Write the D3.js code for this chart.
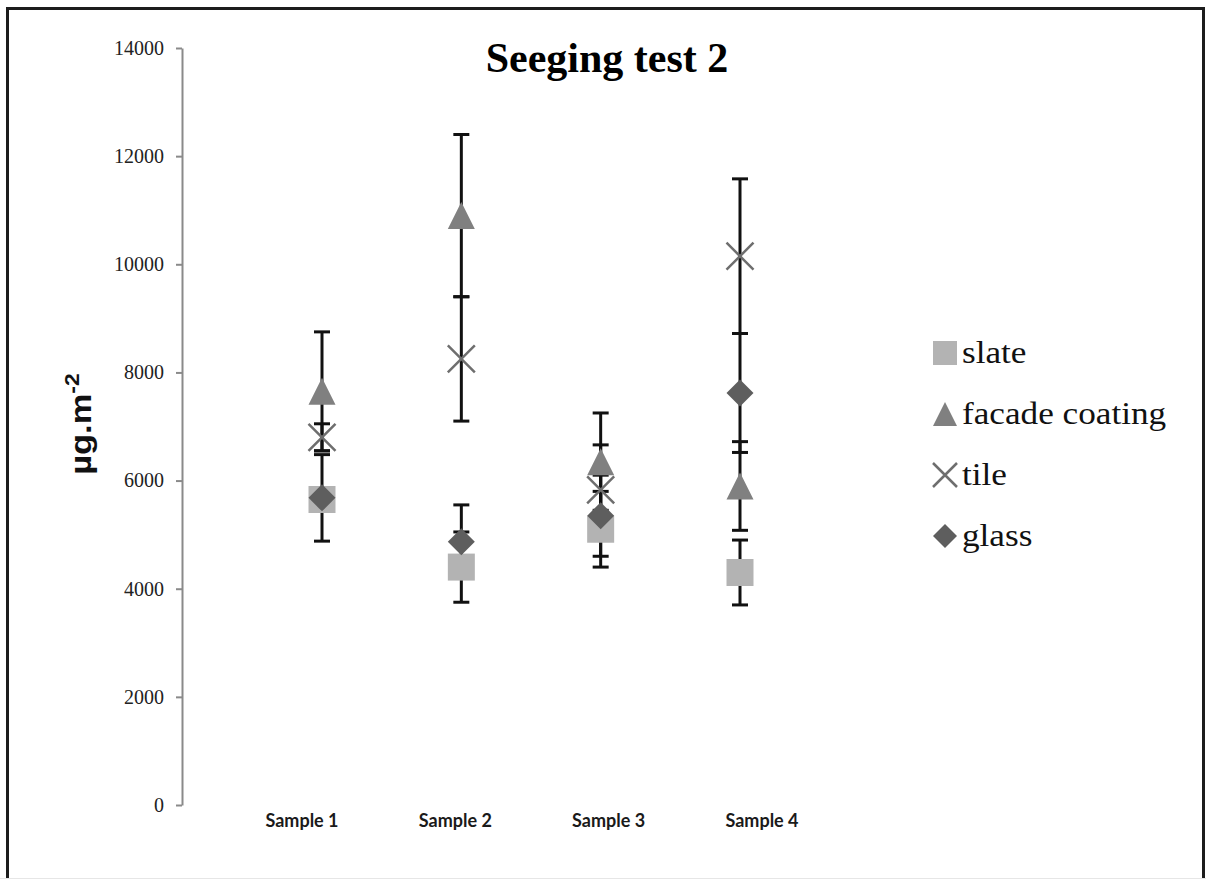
<!DOCTYPE html>
<html>
<head>
<meta charset="utf-8">
<script src="https://cdn.jsdelivr.net/npm/d3@7"></script>
<style>
    body { margin: 0; background: #fff; }
    .axis path, .axis line { stroke: #8a8a8a; stroke-width: 2px; }
    .axis text { font-family: "Liberation Serif", "Times New Roman", serif; font-size: 20px; fill: #222; }
</style>
</head>
<body>
<div id="chart"></div>
<script>
// samples on the x axis
const categories = ['Sample 1', 'Sample 2', 'Sample 3', 'Sample 4'];
const seriesNames = ['slate', 'facade coating', 'tile', 'glass'];
const yTicks = [0, 2000, 4000, 6000, 8000, 10000, 12000, 14000];

// mean values (µg.m-2) and error bar half widths
const slate = [5650, 4400, 5100, 4300];
const slateErr = [100, 650, 700, 600];
const facade = [7650, 10900, 6350, 5900];
const facadeErr = [1100, 1500, 900, 820];
const tile = [6800, 8250, 5830, 10150];
const tileErr = [250, 1150, 830, 1430];
const glass = [5680, 4870, 5350, 7620];
const glassErr = [800, 680, 750, 1100];

class ErrorChart {
    constructor(_config) {
        this.config = {
            parentElement: _config.parentElement,
            containerWidth: _config.containerWidth || 1206,
            containerHeight: _config.containerHeight || 879
        };
        this.initVis();
    }

    initVis() {
        let vis = this;

        vis.svg = d3.select(vis.config.parentElement).append('svg')
            .attr('width', vis.config.containerWidth)
            .attr('height', vis.config.containerHeight);

        // outer frame (bottom edge runs off the picture)
        vis.svg.append('rect')
            .attr('x', 7.5).attr('y', 8.5)
            .attr('width', 1196).attr('height', 900)
            .attr('fill', 'none')
            .attr('stroke', '#1c1c1c')
            .attr('stroke-width', 3);
        vis.svg.append('line')
            .attr('x1', 0).attr('x2', vis.config.containerWidth)
            .attr('y1', 878.5).attr('y2', 878.5)
            .attr('stroke', '#e6e6e6');

        vis.yScale = d3.scaleLinear().domain([0, 14000]).range([805, 48]);
        vis.xScale = d3.scalePoint().domain(categories).range([322, 740]);
        vis.labelScale = d3.scalePoint().domain(categories).range([302, 762]);

        vis.yAxis = d3.axisLeft(vis.yScale)
            .tickValues(yTicks)
            .tickFormat(d3.format('d'))
            .tickSize(6)
            .tickSizeOuter(0)
            .tickPadding(12);

        vis.yAxisG = vis.svg.append('g')
            .attr('class', 'axis y-axis')
            .attr('transform', 'translate(182,0)')
            .call(vis.yAxis);

        // title
        vis.svg.append('text')
            .attr('x', 607).attr('y', 72)
            .attr('text-anchor', 'middle')
            .style('font-family', '"Liberation Serif", "Times New Roman", serif')
            .style('font-weight', 'bold')
            .style('font-size', '42px')
            .text('Seeging test 2');

        // y axis title with superscript
        let yTitle = vis.svg.append('text')
            .attr('transform', 'translate(91,424) rotate(-90) scale(1.15,1)')
            .attr('text-anchor', 'middle')
            .style('font-family', '"Liberation Sans", Arial, sans-serif')
            .style('font-weight', 'bold')
            .style('font-size', '30px')
            .attr('fill', '#111');
        yTitle.append('tspan').text('µg.m');
        yTitle.append('tspan').attr('dy', -12).style('font-size', '20px').text('-2');

        // sample labels
        vis.svg.append('g').selectAll('text')
            .data(categories)
            .enter().append('text')
            .attr('x', d => vis.labelScale(d))
            .attr('y', 827)
            .attr('text-anchor', 'middle')
            .style('font-family', 'Lato, "Open Sans", sans-serif')
            .style('font-weight', 'bold')
            .style('font-size', '18px')
            .attr('fill', '#1a1a1a')
            .text(d => d);

        vis.colors = ['#b3b3b3', '#808080', '#6e6e6e', '#5e5e5e'];
        vis.shapes = ['square', 'triangle', 'cross', 'diamond'];

        vis.updateVis();
    }

    // marker path centred on 0,0
    shapePath(shape, s) {
        let h = s / 2;
        if (shape === 'square') return `M${-h},${-h}H${h}V${h}H${-h}Z`;
        if (shape === 'triangle') return `M0,${-h}L${h},${h}H${-h}Z`;
        if (shape === 'diamond') return `M0,${-h}L${h},0L0,${h}L${-h},0Z`;
        return `M${-h},${-h}L${h},${h}M${-h},${h}L${h},${-h}`;
    }

    updateVis() {
        let vis = this;
        let values = [slate, facade, tile, glass];
        let errors = [slateErr, facadeErr, tileErr, glassErr];

        vis.series = seriesNames.map((name, i) => ({
            name: name,
            shape: vis.shapes[i],
            color: vis.colors[i],
            points: categories.map((c, j) => ({cat: c, value: values[i][j], err: errors[i][j]}))
        }));

        vis.renderVis();
    }

    renderVis() {
        let vis = this;
        let allPoints = vis.series.flatMap(s => s.points);

        // error bars under the markers
        let bars = vis.svg.append('g')
            .attr('stroke', '#111')
            .attr('stroke-width', 3)
            .selectAll('g')
            .data(allPoints)
            .enter().append('g');

        bars.append('line')
            .attr('x1', d => vis.xScale(d.cat))
            .attr('x2', d => vis.xScale(d.cat))
            .attr('y1', d => vis.yScale(d.value - d.err))
            .attr('y2', d => vis.yScale(d.value + d.err));
        [-1, 1].forEach(sign => {
            bars.append('line')
                .attr('x1', d => vis.xScale(d.cat) - 8)
                .attr('x2', d => vis.xScale(d.cat) + 8)
                .attr('y1', d => vis.yScale(d.value + sign * d.err))
                .attr('y2', d => vis.yScale(d.value + sign * d.err));
        });

        // markers
        vis.series.forEach(s => {
            vis.svg.append('g').selectAll('path')
                .data(s.points)
                .enter().append('path')
                .attr('transform', d => `translate(${vis.xScale(d.cat)},${vis.yScale(d.value)})`)
                .attr('d', vis.shapePath(s.shape, 27))
                .attr('fill', s.shape === 'cross' ? 'none' : s.color)
                .attr('stroke', s.shape === 'cross' ? s.color : 'none')
                .attr('stroke-width', 2.5);
        });

        // legend
        let legend = vis.svg.append('g')
            .selectAll('g')
            .data(vis.series)
            .enter().append('g')
            .attr('transform', (d, i) => `translate(945,${353 + i * 61})`);

        legend.append('path')
            .attr('d', d => vis.shapePath(d.shape, 24))
            .attr('fill', d => d.shape === 'cross' ? 'none' : d.color)
            .attr('stroke', d => d.shape === 'cross' ? d.color : 'none')
            .attr('stroke-width', 2.5);

        legend.append('text')
            .attr('transform', 'translate(17,10) scale(1.1,1)')
            .style('font-family', '"Liberation Serif", "Times New Roman", serif')
            .style('font-size', '32px')
            .attr('fill', '#111')
            .text(d => d.name);
    }
}

new ErrorChart({parentElement: '#chart'});
</script>
</body>
</html>
